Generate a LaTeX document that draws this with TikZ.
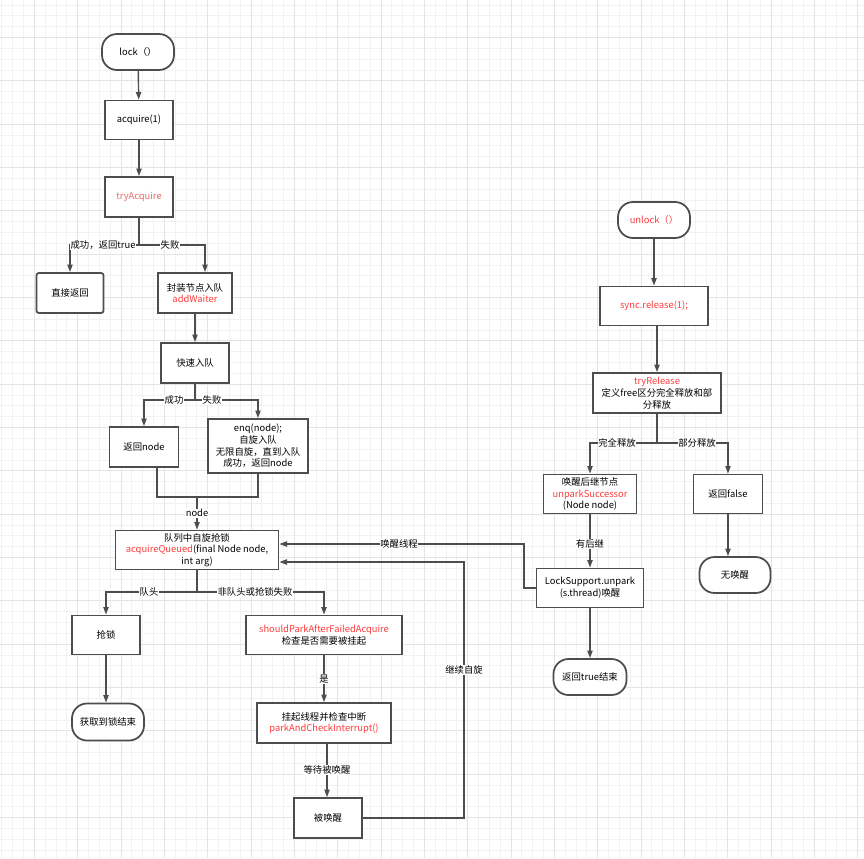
\documentclass[tikz,border=0pt]{standalone}
\usepackage{fontspec}
\setmainfont{Noto Sans CJK SC}
\usetikzlibrary{arrows.meta}
\definecolor{lineclr}{HTML}{4D4D4D}
\definecolor{hotred}{HTML}{FF3B3B}
\definecolor{softred}{HTML}{EA6B66}
\definecolor{gridlight}{HTML}{F2F2F2}
\definecolor{griddark}{HTML}{E4E4E4}

\begin{document}
\begin{tikzpicture}[
  x=0.03cm, y=-0.03cm,
  box/.style={rectangle, draw=lineclr, line width=1.5pt, fill=white, align=center,
              inner sep=1pt, font=\fontsize{8pt}{10pt}\selectfont},
  term/.style={box, rounded corners=4.5mm},
  link/.style={lineclr, line width=1.2pt},
  flow/.style={link, -{Triangle[length=6.5pt, width=4.5pt]}},
  tag/.style={fill=white, inner sep=0.6pt, font=\fontsize{8pt}{10pt}\selectfont},
  minorline/.style={gridlight, line width=0.6pt},
  majorline/.style={griddark, line width=0.6pt},
]

\useasboundingbox (0,0) rectangle (864,858);
\fill[white] (0,0) rectangle (864,858);

% background grid
\foreach \i in {0,...,79} \draw[minorline] ({\i*10.833+1.8},0) -- ++(0,858);
\foreach \j in {0,...,79} \draw[minorline] (0,{\j*10.833+4.9}) -- ++(864,0);
\foreach \i in {0,...,19} \draw[majorline] ({\i*43.333+34.3},0) -- ++(0,858);
\foreach \j in {0,...,19} \draw[majorline] (0,{\j*43.333+37.4}) -- ++(864,0);

% lock side
\node[term, minimum width=2.16cm, minimum height=1.08cm] (lock) at (138,52) {lock（）};
\node[box, minimum width=2.04cm, minimum height=1.17cm] (acquire) at (139,120) {acquire(1)};
\node[box, minimum width=2.04cm, minimum height=1.2cm] (tryAcq) at (139,197) {\textcolor{softred}{tryAcquire}};
\node[box, rounded corners=2pt, minimum width=2.01cm, minimum height=1.2cm] (direct) at (70,293) {直接返回};
\node[box, minimum width=2.22cm, minimum height=1.2cm] (addWaiter) at (195,293) {封装节点入队\\\textcolor{hotred}{addWaiter}};
\node[box, minimum width=2.04cm, minimum height=1.2cm] (fastEnq) at (195,363) {快速入队};
\node[box, minimum width=2.07cm, minimum height=1.2cm] (retNode) at (144,447) {返回node};
\node[box, minimum width=3.0cm, minimum height=1.62cm] (enq) at (258,446) {enq(node);\\自旋入队\\无限自旋，直到入队\\成功，返回node};
\node[box, minimum width=4.89cm, minimum height=1.17cm] (acqQueued) at (197,550) {队列中自旋抢锁\\\textcolor{hotred}{acquireQueued}(final Node node,\\int arg)};
\node[box, minimum width=2.04cm, minimum height=1.17cm] (grab) at (106,635) {抢锁};
\node[term, minimum width=2.16cm, minimum height=1.11cm] (gotLock) at (108,722) {获取到锁结束};
\node[box, minimum width=4.68cm, minimum height=1.17cm] (shouldPark) at (324,635) {\textcolor{hotred}{shouldParkAfterFailedAcquire}\\检查是否需要被挂起};
\node[box, minimum width=4.02cm, minimum height=1.2cm] (parkCheck) at (324,723) {挂起线程并检查中断\\\textcolor{hotred}{parkAndCheckInterrupt()}};
\node[box, minimum width=2.04cm, minimum height=1.2cm] (wakened) at (328,818) {被唤醒};

% unlock side
\node[term, minimum width=2.16cm, minimum height=1.08cm] (unlock) at (654,220) {\textcolor{hotred}{unlock（）}};
\node[box, minimum width=3.24cm, minimum height=1.17cm] (release) at (654,306) {\textcolor{hotred}{sync.release(1);}};
\node[box, minimum width=3.84cm, minimum height=1.2cm] (tryRel) at (657,393) {\textcolor{hotred}{tryRelease}\\定义free区分完全释放和部\\分释放};
\node[box, minimum width=2.79cm, minimum height=1.17cm] (unparkSucc) at (590,494) {唤醒后继节点\\\textcolor{hotred}{unparkSuccessor}\\(Node node)};
\node[box, minimum width=2.07cm, minimum height=1.17cm] (retFalse) at (728,494) {返回false};
\node[box, minimum width=3.21cm, minimum height=1.17cm] (lockSupport) at (590,588) {LockSupport.unpark\\(s.thread)唤醒};
\node[term, minimum width=2.13cm, minimum height=1.08cm] (noWake) at (735,575) {无唤醒};
\node[term, minimum width=2.19cm, minimum height=1.08cm] (retTrue) at (590,677) {返回true结束};

\coordinate (fork1) at (139,245);
\coordinate (fork2) at (195,400);
\coordinate (join1) at (197,497);
\coordinate (fork3) at (197,592);
\coordinate (loopR) at (464,670);
\coordinate (fork4) at (657,443);
\coordinate (wakeL) at (524,544);

\draw[flow] (lock) -- (acquire);
\draw[flow] (acquire) -- (tryAcq);
\draw[link] (tryAcq) -- (fork1);
\draw[flow] (fork1) -| (direct);
\draw[flow] (fork1) -| ([xshift=0.3cm]addWaiter.north);
\draw[flow] (addWaiter) -- (fastEnq);
\draw[link] (fastEnq) -- (fork2);
\draw[flow] (fork2) -| (retNode);
\draw[flow] (fork2) -| (enq);
\draw[link] ([xshift=0.39cm]retNode.south) |- (join1) -| (enq.south);
\draw[flow] (join1) -- (acqQueued);
\draw[link] (acqQueued) -- (fork3);
\draw[flow] (fork3) -| (grab);
\draw[flow] (fork3) -| (shouldPark);
\draw[flow] (grab) -- (grab |- gotLock.north);
\draw[flow] (shouldPark) -- (parkCheck);
\draw[flow] ([xshift=0.09cm]parkCheck.south) -- ([xshift=0.09cm]parkCheck.south |- wakened.north);
\draw[flow] (wakened.east) -| (loopR) |- ([yshift=-0.36cm]acqQueued.east);

\draw[flow] (unlock) -- (release);
\draw[flow] ([xshift=0.09cm]release.south) -- (tryRel);
\draw[link] (tryRel) -- (fork4);
\draw[flow] (fork4) -| (unparkSucc);
\draw[flow] (fork4) -| (retFalse);
\draw[flow] (unparkSucc) -- (lockSupport);
\draw[flow] (lockSupport) -- (retTrue);
\draw[flow] (retFalse) -- (retFalse |- noWake.north);
\draw[flow] (lockSupport.west) -| (wakeL) -- ([yshift=0.18cm]acqQueued.east);

% edge labels
\node[tag] (tOk1) at (103,245) {成功，返回true};
\node[tag] (tFail1) at (170,245) {失败};
\node[tag] (tOk2) at (174,400) {成功};
\node[tag] (tFail2) at (212,400) {失败};
\node[tag] (tNode) at (197,513) {node};
\node[tag] (tHead) at (149,592) {队头};
\node[tag] (tNotHead) at (255,592) {非队头或抢锁失败};
\node[tag] (tYes) at (324,679) {是};
\node[tag] (tWait) at (327,770) {等待被唤醒};
\node[tag] (tSpin) at (loopR) {继续自旋};
\node[tag] (tFull) at (617,443) {完全释放};
\node[tag] (tPart) at (697,443) {部分释放};
\node[tag] (tNext) at (590,544) {有后继};
\node[tag] (tWake) at (399,544) {唤醒线程};

\end{tikzpicture}
\end{document}
